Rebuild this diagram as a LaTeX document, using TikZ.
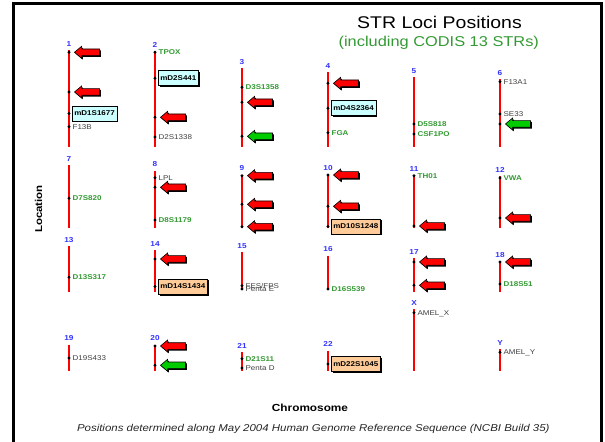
\documentclass[tikz,border=0pt]{standalone}
\usepackage{fontspec}
\setmainfont{Liberation Sans}[FakeStretch=1.15]
\usetikzlibrary{shapes.arrows,shadows,positioning}
\definecolor{chrred}{HTML}{FF0000}
\definecolor{numblue}{HTML}{3333FF}
\definecolor{codis}{HTML}{339933}
\definecolor{othergray}{HTML}{404040}
\definecolor{minicyan}{HTML}{CCFFFF}
\definecolor{miniorange}{HTML}{FFCC99}
\definecolor{hitgreen}{HTML}{00CC00}
\tikzset{
  chrom/.style={line width=2bp, draw=chrred, shorten <=3.5bp},
  num/.style={font=\bfseries\fontsize{7.2}{8}\selectfont, text=numblue, inner sep=0pt, text depth=0pt},
  locus/.style={circle, fill=black, inner sep=0pt, minimum size=3.2bp},
  codislab/.style={font=\bfseries\fontsize{7}{8}\selectfont, text=codis, anchor=west, inner sep=0pt, text depth=0pt, xshift=3.4bp},
  otherlab/.style={font=\fontsize{7}{8}\selectfont, text=othergray, anchor=west, inner sep=0pt, text depth=0pt, xshift=3.4bp},
  minibox/.style={draw=black, line width=0.6bp, anchor=west, font=\bfseries\fontsize{7}{8}\selectfont,
    inner xsep=2bp, inner ysep=0pt, minimum height=15bp, text depth=0pt, xshift=3bp,
    drop shadow={shadow xshift=1.5bp, shadow yshift=-1.5bp, fill=black, opacity=1}},
  cyanbox/.style={minibox, fill=minicyan},
  orangebox/.style={minibox, fill=miniorange},
  hit/.style={single arrow, shape border rotate=180, anchor=tip, draw=black, line width=0.6bp,
    minimum height=25bp, inner sep=3bp, single arrow head extend=2.75bp,
    single arrow tip angle=80, xshift=5bp,
    drop shadow={shadow xshift=1.3bp, shadow yshift=-1.3bp, fill=black, opacity=1}},
  redhit/.style={hit, fill=chrred},
  greenhit/.style={hit, fill=hitgreen}
}
\begin{document}
\begin{tikzpicture}[x=1bp, y=-1bp]
  \useasboundingbox (0,0) rectangle (605,442);
  % Frame
  \draw[line width=3bp] (13.5,442) |- (601,3.2) -- (601,442);

  % Titles
  \node[font=\fontsize{17}{20}\selectfont, anchor=base] (title) at (439.5,28.3) {STR Loci Positions};
  \node[font=\fontsize{14.3}{17}\selectfont, text=codis, anchor=base] (subtitle) at (438.8,46.7) {(including CODIS 13 STRs)};
  \node[font=\bfseries\fontsize{10}{12}\selectfont, rotate=90, text depth=0pt] (ylab) at (38.5,209) {Location};
  \node[font=\bfseries\fontsize{10.3}{12}\selectfont, anchor=base] (xlab) at (310,411.7) {Chromosome};
  \node[font=\itshape\fontsize{10}{12}\selectfont, text=black!85, anchor=base] (source) at (313.3,431)
    {Positions determined along May 2004 Human Genome Reference Sequence (NCBI Build 35)};

  % Chromosome numbers
  \node[num] (n1) at (69,44) {1};        \node[num] (n2) at (155,45) {2};
  \node[num] (n3) at (242,62) {3};       \node[num] (n4) at (328,66) {4};
  \node[num] (n5) at (414,70.7) {5};     \node[num] (n6) at (500,72.7) {6};
  \node[num] (n7) at (69,159.3) {7};     \node[num] (n8) at (155,164.3) {8};
  \node[num] (n9) at (242,168.3) {9};    \node[num] (n10) at (328,168.3) {10};
  \node[num] (n11) at (414,169) {11};    \node[num] (n12) at (500,170) {12};
  \node[num] (n13) at (69,240) {13};     \node[num] (n14) at (155,244) {14};
  \node[num] (n15) at (242,246) {15};    \node[num] (n16) at (328,249.3) {16};
  \node[num] (n17) at (414,252.3) {17};  \node[num] (n18) at (500,254.7) {18};
  \node[num] (nX) at (414,303.3) {X};
  \node[num] (n19) at (69,338.3) {19};   \node[num] (n20) at (155,338.3) {20};
  \node[num] (n21) at (242,345.7) {21};  \node[num] (n22) at (328,344.3) {22};
  \node[num] (nY) at (500,343.3) {Y};

  % Chromosome ends
  \coordinate (b1) at (69,147);     \coordinate (b2) at (155,147);    \coordinate (b3) at (242,147);
  \coordinate (b4) at (328,147);    \coordinate (b5) at (414,147);    \coordinate (b6) at (500,147);
  \coordinate (b7) at (69,228);     \coordinate (b8) at (155,228);    \coordinate (b9) at (242,228);
  \coordinate (b10) at (328,228);   \coordinate (b11) at (414,228);   \coordinate (b12) at (500,228);
  \coordinate (b13) at (69,291.5);  \coordinate (b14) at (155,291.5); \coordinate (b15) at (242,290);
  \coordinate (b16) at (328,290);   \coordinate (b17) at (414,291.5); \coordinate (b18) at (500,291.5);
  \coordinate (bX) at (414,370.7);
  \coordinate (b19) at (69,370.7);  \coordinate (b20) at (155,370.7); \coordinate (b21) at (242,370.7);
  \coordinate (b22) at (328,370.7); \coordinate (bY) at (500,370.7);

  % Chromosomes
  \draw[chrom] (n1) -- (b1);   \draw[chrom] (n2) -- (b2);   \draw[chrom] (n3) -- (b3);
  \draw[chrom] (n4) -- (b4);   \draw[chrom] (n5) -- (b5);   \draw[chrom] (n6) -- (b6);
  \draw[chrom] (n7) -- (b7);   \draw[chrom] (n8) -- (b8);   \draw[chrom] (n9) -- (b9);
  \draw[chrom] (n10) -- (b10); \draw[chrom] (n11) -- (b11); \draw[chrom] (n12) -- (b12);
  \draw[chrom] (n13) -- (b13); \draw[chrom] (n14) -- (b14); \draw[chrom] (n15) -- (b15);
  \draw[chrom] (n16) -- (b16); \draw[chrom] (n17) -- (b17); \draw[chrom] (n18) -- (b18);
  \draw[chrom] (nX) -- (bX);
  \draw[chrom] (n19) -- (b19); \draw[chrom] (n20) -- (b20); \draw[chrom] (n21) -- (b21);
  \draw[chrom] (n22) -- (b22); \draw[chrom] (nY) -- (bY);

  % Loci, row 1
  \node[locus] (m1a) at (69,52.3) {};    \node[redhit] (h1a) at (m1a) {};
  \node[locus] (m1b) at (69,92) {};      \node[redhit] (h1b) at (m1b) {};
  \node[locus] (m1c) at (69,113.5) {};   \node[cyanbox] (x1c) at (m1c) {mD1S1677};
  \node[locus] (m1d) at (69,126.7) {};   \node[otherlab] (l1d) at (m1d) {F13B};
  \node[locus] (m2a) at (155,52.3) {};   \node[codislab] (l2a) at (m2a) {TPOX};
  \node[locus] (m2b) at (155,78.3) {};   \node[cyanbox] (x2b) at (m2b) {mD2S441};
  \node[locus] (m2c) at (155,117.3) {};  \node[redhit] (h2c) at (m2c) {};
  \node[locus] (m2d) at (155,137) {};    \node[otherlab] (l2d) at (m2d) {D2S1338};
  \node[locus] (m3a) at (242,87.3) {};   \node[codislab] (l3a) at (m3a) {D3S1358};
  \node[locus] (m3b) at (242,102.3) {};  \node[redhit] (h3b) at (m3b) {};
  \node[locus] (m3c) at (242,136.3) {};  \node[greenhit] (h3c) at (m3c) {};
  \node[locus] (m4a) at (328,83.3) {};   \node[redhit] (h4a) at (m4a) {};
  \node[locus] (m4b) at (328,108.3) {};  \node[cyanbox] (x4b) at (m4b) {mD4S2364};
  \node[locus] (m4c) at (328,132.7) {};  \node[codislab] (l4c) at (m4c) {FGA};
  \node[locus] (m5a) at (414,124) {};    \node[codislab] (l5a) at (m5a) {D5S818};
  \node[locus] (m5b) at (414,134) {};    \node[codislab] (l5b) at (m5b) {CSF1PO};
  \node[locus] (m6a) at (500,81.7) {};   \node[otherlab] (l6a) at (m6a) {F13A1};
  \node[locus] (m6b) at (500,114) {};    \node[otherlab] (l6b) at (m6b) {SE33};
  \node[locus] (m6c) at (500,124) {};    \node[greenhit] (h6c) at (m6c) {};

  % Loci, row 2
  \node[locus] (m7a) at (69,198.3) {};   \node[codislab] (l7a) at (m7a) {D7S820};
  \node[locus] (m8a) at (155,177.7) {};  \node[otherlab] (l8a) at (m8a) {LPL};
  \node[locus] (m8b) at (155,187.3) {};  \node[redhit] (h8b) at (m8b) {};
  \node[locus] (m8c) at (155,220) {};    \node[codislab] (l8c) at (m8c) {D8S1179};
  \node[locus] (m9a) at (242,175.7) {};  \node[redhit] (h9a) at (m9a) {};
  \node[locus] (m9b) at (242,204.3) {};  \node[redhit] (h9b) at (m9b) {};
  \node[locus] (m9c) at (242,226.7) {};  \node[redhit] (h9c) at (m9c) {};
  \node[locus] (m10a) at (328,175) {};   \node[redhit] (h10a) at (m10a) {};
  \node[locus] (m10b) at (328,206.3) {}; \node[redhit] (h10b) at (m10b) {};
  \node[locus] (m10c) at (328,226.5) {}; \node[orangebox] (x10c) at (m10c) {mD10S1248};
  \node[locus] (m11a) at (414,175.7) {}; \node[codislab] (l11a) at (m11a) {TH01};
  \node[locus] (m11b) at (414,226) {};   \node[redhit] (h11b) at (m11b) {};
  \node[locus] (m12a) at (500,178) {};   \node[codislab] (l12a) at (m12a) {VWA};
  \node[locus] (m12b) at (500,218) {};   \node[redhit] (h12b) at (m12b) {};

  % Loci, row 3
  \node[locus] (m13a) at (69,277.3) {};  \node[codislab] (l13a) at (m13a) {D13S317};
  \node[locus] (m14a) at (155,259) {};   \node[redhit] (h14a) at (m14a) {};
  \node[locus] (m14b) at (155,286.5) {}; \node[orangebox] (x14b) at (m14b) {mD14S1434};
  \node[locus] (m15a) at (242,285.7) {}; \node[otherlab] (l15a) at (m15a) {FES/FPS};
  \node[locus] (m15b) at (242,289) {};   \node[otherlab] (l15b) at (m15b) {Penta E};
  \node[locus] (m16a) at (328,289) {};   \node[codislab] (l16a) at (m16a) {D16S539};
  \node[locus] (m17a) at (414,262) {};   \node[redhit] (h17a) at (m17a) {};
  \node[locus] (m17b) at (414,285.3) {}; \node[redhit] (h17b) at (m17b) {};
  \node[locus] (m18a) at (500,262) {};   \node[redhit] (h18a) at (m18a) {};
  \node[locus] (m18b) at (500,284) {};   \node[codislab] (l18b) at (m18b) {D18S51};
  \node[locus] (mXa) at (414,312.7) {};  \node[otherlab] (lXa) at (mXa) {AMEL\_X};

  % Loci, row 4
  \node[locus] (m19a) at (69,358) {};    \node[otherlab] (l19a) at (m19a) {D19S433};
  \node[locus] (m20a) at (155,346) {};   \node[redhit] (h20a) at (m20a) {};
  \node[locus] (m20b) at (155,365.3) {}; \node[greenhit] (h20b) at (m20b) {};
  \node[locus] (m21a) at (242,358.7) {}; \node[codislab] (l21a) at (m21a) {D21S11};
  \node[locus] (m21b) at (242,368) {};   \node[otherlab] (l21b) at (m21b) {Penta D};
  \node[locus] (m22a) at (328,364) {};   \node[orangebox] (x22a) at (m22a) {mD22S1045};
  \node[locus] (mYa) at (500,352.3) {};  \node[otherlab] (lYa) at (mYa) {AMEL\_Y};
\end{tikzpicture}
\end{document}
